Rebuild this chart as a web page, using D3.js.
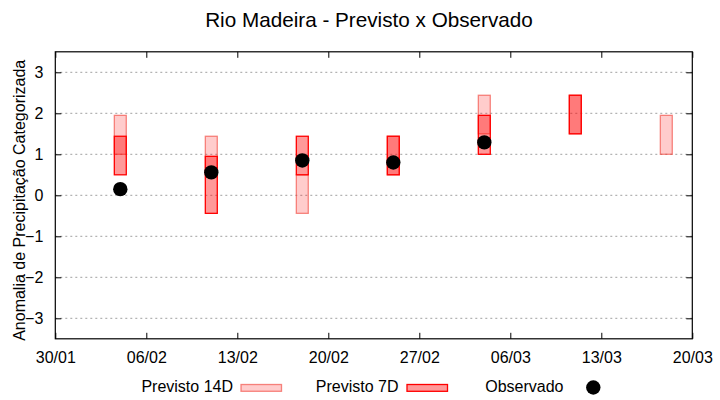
<!DOCTYPE html>
<html>
<head>
<meta charset="utf-8">
<script src="https://cdn.jsdelivr.net/npm/d3@7"></script>
<style>
  body { margin: 0; background: #fff; }
  svg { display: block; font-family: "Liberation Sans", Arial, sans-serif; }
</style>
</head>
<body>
<svg id="chart" width="720" height="400"></svg>
<script>
// ---- data ----
const dates    = ["2023-02-04","2023-02-11","2023-02-18","2023-02-25","2023-03-04","2023-03-11","2023-03-18"];
const p14Low   = [1.0, 0.5, -0.44, 0.5, 1.5, 1.5, 1.0];
const p14High  = [1.95, 1.44, 0.5, 1.44, 2.44, 2.44, 1.95];
const p7Low    = [0.5, -0.44, 0.5, 0.5, 1.0, 1.5, null];
const p7High   = [1.44, 0.95, 1.44, 1.44, 1.95, 2.44, null];
const observed = [0.15, 0.56, 0.85, 0.8, 1.29, null, null];
const xTickDates = ["2023-01-30","2023-02-06","2023-02-13","2023-02-20","2023-02-27","2023-03-06","2023-03-13","2023-03-20"];
const yTicks = [-3, -2, -1, 0, 1, 2, 3];

// ---- layout ----
const svg = d3.select("#chart");
const pLeft = 55.3, pRight = 692.3, pTop = 51.8, pBottom = 338.8;
const parse = d3.utcParse("%Y-%m-%d");
const DAY = 86400000;
const FS = 16;

const x = d3.scaleUtc()
  .domain([parse(xTickDates[0]), parse(xTickDates[xTickDates.length - 1])])
  .range([pLeft, pRight]);
const y = d3.scaleLinear().domain([-3.5, 3.5]).range([pBottom, pTop]);

// grid
svg.append("g").selectAll("line").data(yTicks).join("line")
  .attr("x1", pLeft).attr("x2", pRight)
  .attr("y1", d => y(d)).attr("y2", d => y(d))
  .attr("stroke", "#a0a0a0").attr("stroke-width", 1)
  .attr("stroke-dasharray", "2,3");

// axes (ticks inward, mirrored)
const fmt = d3.utcFormat("%d/%m");
const xt = xTickDates.map(parse);
const axB = svg.append("g").attr("transform", `translate(0,${pBottom})`)
  .call(d3.axisBottom(x).tickValues(xt).tickFormat(fmt).tickSizeInner(-6).tickSizeOuter(0).tickPadding(13));
const axT = svg.append("g").attr("transform", `translate(0,${pTop})`)
  .call(d3.axisTop(x).tickValues(xt).tickFormat("").tickSizeInner(-6).tickSizeOuter(0));
const axL = svg.append("g").attr("transform", `translate(${pLeft},0)`)
  .call(d3.axisLeft(y).tickValues(yTicks).tickFormat(d3.format("d")).tickSizeInner(-6).tickSizeOuter(0).tickPadding(12));
const axR = svg.append("g").attr("transform", `translate(${pRight},0)`)
  .call(d3.axisRight(y).tickValues(yTicks).tickFormat("").tickSizeInner(-6).tickSizeOuter(0));
[axB, axT, axL, axR].forEach(g => {
  g.select(".domain").remove();
  g.selectAll("line").attr("stroke", "#000").attr("stroke-width", 1);
  g.selectAll("text").attr("font-size", FS).attr("fill", "#000")
    .attr("font-family", "'Liberation Sans', Arial, sans-serif");
});

// border
svg.append("rect").attr("x", pLeft).attr("y", pTop)
  .attr("width", pRight - pLeft).attr("height", pBottom - pTop)
  .attr("fill", "none").attr("stroke", "#000").attr("stroke-width", 1.2);

// bars
const half = 0.46 * DAY;
const rows = dates.map((d, i) => ({
  t: parse(d), l14: p14Low[i], h14: p14High[i], l7: p7Low[i], h7: p7High[i], o: observed[i]
}));
const bx = d => x(new Date(d.t.getTime() - half));
const bw = d => x(new Date(d.t.getTime() + half)) - x(new Date(d.t.getTime() - half));

svg.append("g").selectAll("rect").data(rows.filter(d => d.l14 != null)).join("rect")
  .attr("x", bx).attr("width", bw)
  .attr("y", d => y(d.h14)).attr("height", d => y(d.l14) - y(d.h14))
  .attr("fill", "rgba(255,0,0,0.2)").attr("stroke", "rgba(240,60,50,0.6)").attr("stroke-width", 1.3);

svg.append("g").selectAll("rect").data(rows.filter(d => d.l7 != null)).join("rect")
  .attr("x", bx).attr("width", bw)
  .attr("y", d => y(d.h7)).attr("height", d => y(d.l7) - y(d.h7))
  .attr("fill", "rgba(255,0,0,0.4)").attr("stroke", "#ff0000").attr("stroke-width", 1.3);

svg.append("g").selectAll("circle").data(rows.filter(d => d.o != null)).join("circle")
  .attr("cx", d => x(d.t)).attr("cy", d => y(d.o)).attr("r", 7.2).attr("fill", "#000");

// title
svg.append("text").attr("x", 369).attr("y", 27)
  .attr("text-anchor", "middle").attr("font-size", 20.7).attr("fill", "#000")
  .text("Rio Madeira - Previsto x Observado");

// y label
svg.append("text").attr("transform", `translate(25,${(pTop + pBottom) / 2 + 5}) rotate(-90)`)
  .attr("text-anchor", "middle").attr("font-size", FS).attr("fill", "#000")
  .text("Anomalia de Precipitação Categorizada");

// legend
const lg = svg.append("g");
const ly = 392;
lg.append("text").attr("x", 233).attr("y", ly).attr("text-anchor", "end").attr("font-size", FS).text("Previsto 14D");
lg.append("rect").attr("x", 241).attr("y", 384.5).attr("width", 40.5).attr("height", 6.8)
  .attr("fill", "rgba(255,0,0,0.2)").attr("stroke", "rgba(240,60,50,0.6)").attr("stroke-width", 1.3);
lg.append("text").attr("x", 398.5).attr("y", ly).attr("text-anchor", "end").attr("font-size", FS).text("Previsto 7D");
lg.append("rect").attr("x", 407).attr("y", 384.5).attr("width", 40.5).attr("height", 6.8)
  .attr("fill", "rgba(255,0,0,0.4)").attr("stroke", "#ff0000").attr("stroke-width", 1.3);
lg.append("text").attr("x", 563.5).attr("y", ly).attr("text-anchor", "end").attr("font-size", FS).text("Observado");
lg.append("circle").attr("cx", 593.3).attr("cy", 387.5).attr("r", 7.2).attr("fill", "#000");
</script>
</body>
</html>
